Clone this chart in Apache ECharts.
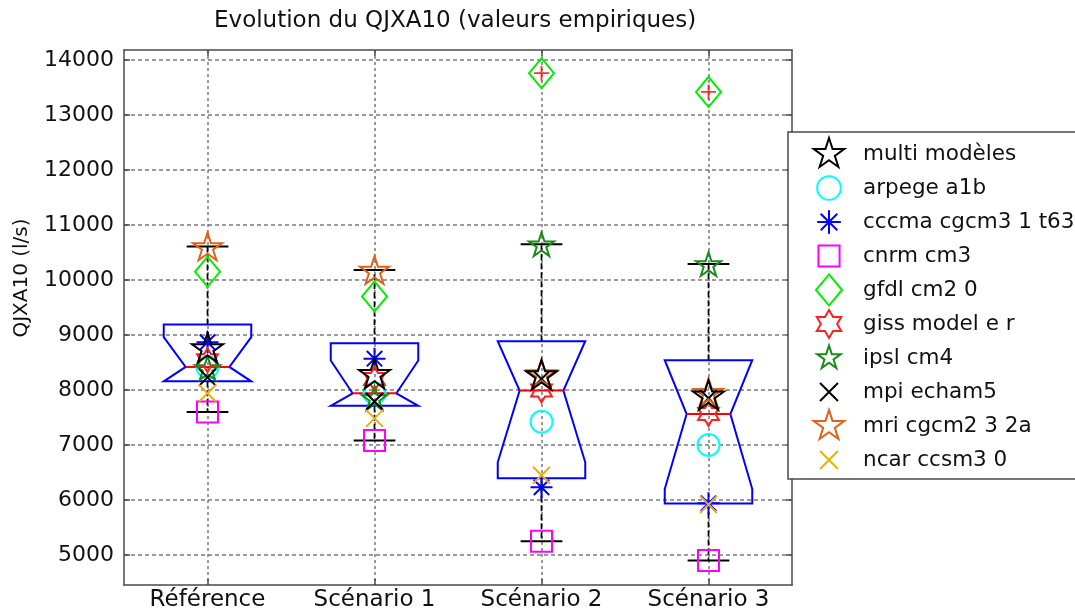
<!DOCTYPE html>
<html><head><meta charset="utf-8">
<script src="https://cdn.jsdelivr.net/npm/echarts@6/dist/echarts.min.js"></script>
<style>html,body{margin:0;padding:0;background:#fff}#c{width:1075px;height:616px}</style>
</head><body><div id="c"></div>
<script>
// ---- data ----
const categories = ['Référence', 'Scénario 1', 'Scénario 2', 'Scénario 3'];
const yTicks = [5000, 6000, 7000, 8000, 9000, 10000, 11000, 12000, 13000, 14000];
const multiModeles = [8770, 8300, 8280, 7910];
const arpegeA1b    = [8420, 7940, 7424, 7000];
const cccmaCgcm3   = [8870, 8570, 6230, 5940];
const cnrmCm3      = [7600, 7080, 5250, 4900];
const gfdlCm20     = [10150, 9700, 13760, 13420];
const gissModelER  = [8540, 8200, 7990, 7564];
const ipslCm4      = [8400, 7855, 10650, 10290];
const mpiEcham5    = [8230, 7790, 8200, 7850];
const mriCgcm232a  = [10610, 10180, 8300, 7960];
const ncarCcsm30   = [7940, 7485, 6450, 5920];

const FONT = 'DejaVu Sans';
const TXT = '#111111';

// ---- symbol shapes ----
function starBody(n, r1, r2) {
  let d = '';
  for (let i = 0; i < 2 * n; i++) {
    const r = i % 2 === 0 ? r1 : r2;
    const a = -Math.PI / 2 + i * Math.PI / n;
    d += (i === 0 ? 'M' : 'L') + (50 + r * Math.cos(a)).toFixed(2) + ' ' + (50 + r * Math.sin(a)).toFixed(2) + ' ';
  }
  return d + 'Z';
}
const B_PENTA = starBody(5, 50, 19.1);
const B_HEXA = starBody(6, 50, 28.9);
const B_CROSS = 'M0 0 L100 100 M100 0 L0 100';
const B_PLUS = 'M50 0 L50 100 M0 50 L100 50';
const B_ASTER = 'M50 0 L50 100 M0 50 L100 50 M15 15 L85 85 M85 15 L15 85';
const B_CIRCLE = 'M50 0 A50 50 0 1 1 49.9 0 Z';
const B_RECT = 'M0 0 L100 0 L100 100 L0 100 Z';
const B_DIAMOND = 'M50 0 L92 50 L50 100 L8 50 Z';
// same shape, drawn at a fraction of a square box (legend icons)
function padded(body, frac) {
  const t = 100 / frac, a = (50 - t / 2).toFixed(2), b = (50 + t / 2).toFixed(2);
  return 'path://M' + a + ' ' + a + ' M' + b + ' ' + b + ' ' + body;
}

const models = [
  { name: 'multi modèles',     values: multiModeles, body: B_PENTA,  size: 31,       color: '#000000', leg: 1.0, model: false },
  { name: 'arpege a1b',        values: arpegeA1b,    body: B_CIRCLE, size: 22,       color: '#00ffff', leg: 0.74 },
  { name: 'cccma cgcm3 1 t63', values: cccmaCgcm3,   body: B_ASTER,  size: 22,       color: '#0000ff', leg: 0.74 },
  { name: 'cnrm cm3',          values: cnrmCm3,      body: B_RECT,   size: 21,       color: '#ff00ff', leg: 0.66 },
  { name: 'gfdl cm2 0',        values: gfdlCm20,     body: B_DIAMOND,size: [25, 30], color: '#00ee00', leg: 0.97 },
  { name: 'giss model e r',    values: gissModelER,  body: B_HEXA,   size: 24,       color: '#ff2020', leg: 0.88 },
  { name: 'ipsl cm4',          values: ipslCm4,      body: B_PENTA,  size: 25,       color: '#1a8c1a', leg: 0.78 },
  { name: 'mpi echam5',        values: mpiEcham5,    body: B_CROSS,  size: 17,       color: '#000000', leg: 0.56 },
  { name: 'mri cgcm2 3 2a',    values: mriCgcm232a,  body: B_PENTA,  size: 29,       color: '#e0621a', leg: 1.0 },
  { name: 'ncar ccsm3 0',      values: ncarCcsm30,   body: B_CROSS,  size: 17,       color: '#e6b400', leg: 0.56 }
];

// ---- boxplot statistics (Matlab style) from the 9 models ----
function pct(s, p) {
  const n = s.length; let pos = n * p + 0.5;
  pos = Math.max(1, Math.min(n, pos));
  const i = Math.floor(pos), f = pos - i;
  return i >= n ? s[n - 1] : s[i - 1] + f * (s[i] - s[i - 1]);
}
const boxData = [], outlierData = [];
categories.forEach((c, k) => {
  const vals = models.filter(m => m.model !== false).map(m => m.values[k]).sort((a, b) => a - b);
  const n = vals.length;
  const q1 = pct(vals, 0.25), med = pct(vals, 0.5), q3 = pct(vals, 0.75), iqr = q3 - q1;
  const nlo = Math.max(q1, med - 1.57 * iqr / Math.sqrt(n));
  const nhi = Math.min(q3, med + 1.57 * iqr / Math.sqrt(n));
  const hiF = q3 + 1.5 * iqr, loF = q1 - 1.5 * iqr;
  const inside = vals.filter(v => v >= loF && v <= hiF);
  const wlo = Math.min(...inside), whi = Math.max(...inside);
  vals.filter(v => v < loF || v > hiF).forEach(v => outlierData.push([k + 1, v]));
  boxData.push([k + 1, q1, med, q3, nlo, nhi, wlo, whi]);
});
const xTicks = categories.map((c, i) => i + 1);

const chart = echarts.init(document.getElementById('c'), null, { renderer: 'canvas' });

const axisLineStyle = { color: '#4a4a4a', width: 1.5 };
const series = [];
series.push({
  type: 'custom', name: 'box', silent: true, z: 2,
  data: boxData,
  encode: { x: 0, y: [1, 2, 3, 4, 5, 6, 7] },
  renderItem(params, api) {
    const x = api.value(0);
    const q1 = api.value(1), med = api.value(2), q3 = api.value(3);
    const nlo = api.value(4), nhi = api.value(5), wlo = api.value(6), whi = api.value(7);
    const P = (dx, v) => api.coord([x + dx, v]);
    const W = 0.262, N = 0.131, C = 0.125;
    const poly = [P(-W, q1), P(-W, nlo), P(-N, med), P(-W, nhi), P(-W, q3),
                  P(W, q3), P(W, nhi), P(N, med), P(W, nlo), P(W, q1)];
    const ln = (a, b, style) => ({ type: 'line', shape: { x1: a[0], y1: a[1], x2: b[0], y2: b[1] }, style });
    const dash = { stroke: '#000', lineWidth: 1.7, lineDash: [6, 3] };
    const cap = { stroke: '#000', lineWidth: 2 };
    return {
      type: 'group', children: [
        ln(P(0, q3), P(0, whi), dash),
        ln(P(0, q1), P(0, wlo), dash),
        ln(P(-C, whi), P(C, whi), cap),
        ln(P(-C, wlo), P(C, wlo), cap),
        { type: 'polygon', shape: { points: poly }, style: { fill: 'none', stroke: '#0000ff', lineWidth: 2 } },
        ln(P(-N, med), P(N, med), { stroke: '#ff0000', lineWidth: 2 })
      ]
    };
  }
});
series.push({
  type: 'scatter', name: 'outliers', silent: true, z: 3,
  data: outlierData, symbol: 'path://' + B_PLUS, symbolSize: 15,
  itemStyle: { color: 'rgba(0,0,0,0)', borderColor: '#ff0000', borderWidth: 1.8 }
});
models.forEach((m, i) => {
  series.push({
    type: 'scatter', name: m.name, z: 4 + (i === 0 ? 20 : i),
    data: m.values.map((v, k) => [k + 1, v]),
    symbol: 'path://' + m.body, symbolSize: m.size, symbolKeepAspect: m.body !== B_DIAMOND,
    itemStyle: { color: 'rgba(0,0,0,0)', borderColor: m.color, borderWidth: 2, opacity: 1 }
  });
});

chart.setOption({
  animation: false,
  backgroundColor: '#ffffff',
  textStyle: { fontFamily: FONT },
  title: {
    text: 'Evolution du QJXA10 (valeurs empiriques)',
    left: 209, top: 5,
    textStyle: { fontFamily: FONT, fontSize: 23, fontWeight: 'normal', color: TXT }
  },
  graphic: [{
    type: 'text', x: 22, y: 278, rotation: Math.PI / 2,
    style: { text: 'QJXA10 (l/s)', fontFamily: FONT, fontSize: 20, fill: TXT, align: 'center', verticalAlign: 'middle' }
  }],
  grid: { left: 124, top: 50, width: 668, height: 535 },
  xAxis: [{
    type: 'value', min: 0.5, max: 4.5, position: 'bottom',
    axisLine: { show: true, lineStyle: axisLineStyle },
    axisTick: { show: true, inside: true, length: 6, customValues: xTicks, lineStyle: axisLineStyle },
    axisLabel: { customValues: xTicks, formatter: v => categories[Math.round(v) - 1], fontFamily: FONT, fontSize: 23, color: TXT, margin: 4 },
    splitLine: { show: true, lineStyle: { color: '#7a7a7a', type: [3, 3], width: 1.5 } }
  }, {
    type: 'value', min: 0.5, max: 4.5, position: 'top',
    axisLine: { show: true, lineStyle: axisLineStyle },
    axisTick: { show: true, inside: true, length: 6, customValues: xTicks, lineStyle: axisLineStyle },
    axisLabel: { show: false }, splitLine: { show: false }
  }],
  yAxis: [{
    type: 'value', min: 4455, max: 14182, position: 'left',
    axisLine: { show: true, lineStyle: axisLineStyle },
    axisTick: { show: true, inside: true, length: 6, customValues: yTicks, lineStyle: axisLineStyle },
    axisLabel: { customValues: yTicks, formatter: v => String(v), fontFamily: FONT, fontSize: 22, color: TXT, margin: 10 },
    splitLine: { show: true, lineStyle: { color: '#7a7a7a', type: [4, 3], width: 1.5 } }
  }, {
    type: 'value', min: 4455, max: 14182, position: 'right',
    axisLine: { show: true, lineStyle: axisLineStyle },
    axisTick: { show: true, inside: true, length: 6, customValues: yTicks, lineStyle: axisLineStyle },
    axisLabel: { show: false }, splitLine: { show: false }
  }],
  legend: {
    data: models.map(m => ({ name: m.name, icon: padded(m.body, m.leg) })),
    orient: 'vertical', left: 788, top: 132,
    padding: [5, 70, 2, 24],
    itemWidth: 32, itemHeight: 32, itemGap: 0,
    backgroundColor: '#ffffff', borderColor: '#4a4a4a', borderWidth: 1.5,
    selectedMode: false,
    textStyle: { fontFamily: FONT, fontSize: 21.5, color: TXT, lineHeight: 26, padding: [0, 0, 0, 13] }
  },
  series
});
</script>
</body></html>
